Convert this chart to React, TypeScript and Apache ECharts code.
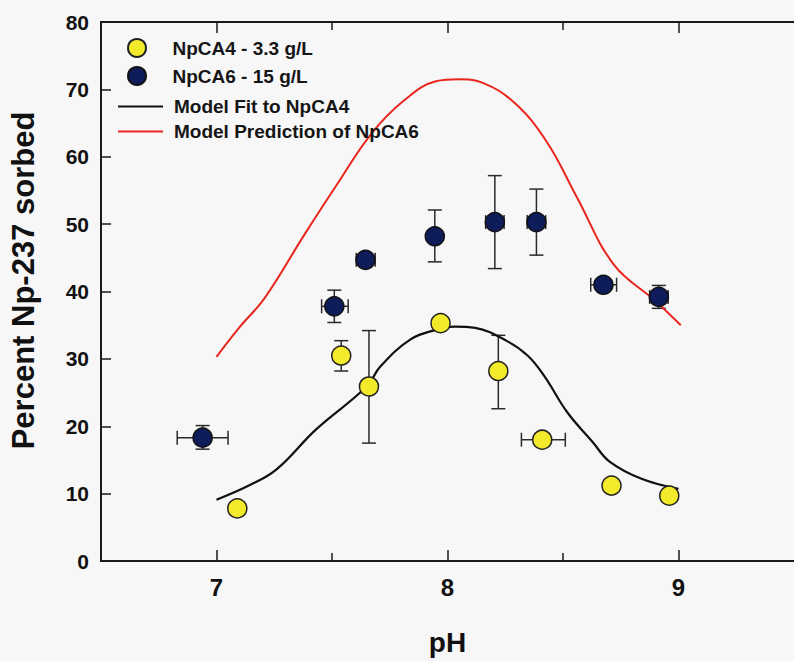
import React, { useEffect, useRef } from "react";
import * as echarts from "echarts";

// ---- data ----
const ca4PH = [7.09, 7.54, 7.66, 7.97, 8.22, 8.41, 8.71, 8.96];
const ca4Val = [7.8, 30.5, 25.9, 35.3, 28.2, 18.0, 11.2, 9.7];
const ca4YLow: (number | null)[] = [null, 28.2, 17.5, 34.4, 22.6, null, 10.4, null];
const ca4YHigh: (number | null)[] = [null, 32.7, 34.2, 36.2, 33.5, null, 12.0, null];
const ca4XLow: (number | null)[] = [null, null, null, null, null, 8.32, null, null];
const ca4XHigh: (number | null)[] = [null, null, null, null, null, 8.51, null, null];

const ca6PH = [6.94, 7.51, 7.645, 7.945, 8.205, 8.385, 8.675, 8.915];
const ca6Val = [18.3, 37.8, 44.7, 48.2, 50.3, 50.3, 41.0, 39.2];
const ca6YLow: (number | null)[] = [16.6, 35.4, null, 44.4, 43.4, 45.4, null, 37.5];
const ca6YHigh: (number | null)[] = [20.1, 40.2, null, 52.1, 57.2, 55.2, null, 40.9];
const ca6XLow: (number | null)[] = [6.83, 7.455, 7.605, null, 8.165, 8.345, 8.62, 8.875];
const ca6XHigh: (number | null)[] = [7.05, 7.57, 7.687, null, 8.245, 8.425, 8.732, 8.955];

const fitPH = [7.0, 7.14, 7.26, 7.43, 7.65, 7.71, 7.84, 7.95, 8.03, 8.12, 8.26, 8.35, 8.42, 8.52, 8.63, 8.7, 8.84, 9.0];
const fitVal = [9.1, 11.2, 13.6, 19.5, 25.9, 28.9, 32.9, 34.3, 34.8, 34.6, 32.6, 30.4, 27.4, 22.0, 17.6, 14.8, 12.2, 10.7];

const predPH = [7.0, 7.1, 7.21, 7.38, 7.52, 7.67, 7.81, 7.95, 8.05, 8.15, 8.29, 8.43, 8.56, 8.72, 8.9, 9.01];
const predVal = [30.3, 34.7, 39.1, 48.4, 55.8, 63.4, 68.3, 71.2, 71.5, 71.0, 68.0, 62.2, 54.0, 44.0, 38.6, 35.0];

const xLabels = [7, 8, 9];
const xHalfTicks = [7.5, 8.5];

const seriesNames = [
  "NpCA4 - 3.3 g/L",
  "NpCA6 - 15 g/L",
  "Model Fit to NpCA4",
  "Model Prediction of NpCA6",
];

const FONT = "Liberation Sans, Arial, Helvetica, sans-serif";

function errorBars(
  px: number[],
  py: number[],
  xl: (number | null)[],
  xh: (number | null)[],
  yl: (number | null)[],
  yh: (number | null)[]
) {
  return (params: any, api: any) => {
    const i = params.dataIndex;
    const cap = 7;
    const style = { stroke: "#2a2a2a", lineWidth: 1.5 };
    const children: any[] = [];
    if (yl[i] != null && yh[i] != null) {
      const a = api.coord([px[i], yl[i]]);
      const b = api.coord([px[i], yh[i]]);
      children.push({ type: "line", shape: { x1: a[0], y1: a[1], x2: b[0], y2: b[1] }, style });
      children.push({ type: "line", shape: { x1: a[0] - cap, y1: a[1], x2: a[0] + cap, y2: a[1] }, style });
      children.push({ type: "line", shape: { x1: b[0] - cap, y1: b[1], x2: b[0] + cap, y2: b[1] }, style });
    }
    if (xl[i] != null && xh[i] != null) {
      const a = api.coord([xl[i], py[i]]);
      const b = api.coord([xh[i], py[i]]);
      children.push({ type: "line", shape: { x1: a[0], y1: a[1], x2: b[0], y2: b[1] }, style });
      children.push({ type: "line", shape: { x1: a[0], y1: a[1] - cap, x2: a[0], y2: a[1] + cap }, style });
      children.push({ type: "line", shape: { x1: b[0], y1: b[1] - cap, x2: b[0], y2: b[1] + cap }, style });
    }
    return { type: "group", children };
  };
}

export default function App() {
  const ref = useRef<HTMLDivElement>(null);
  useEffect(() => {
    if (!ref.current) return;
    const chart = echarts.init(ref.current, null, { renderer: "svg" });
    const axisLine = { show: true, onZero: false, lineStyle: { color: "#1a1a1a", width: 2 } };
    const baseX = { type: "value", min: 6.5, max: 9.5, splitLine: { show: false } };
    const legendText = { fontFamily: FONT, fontWeight: "bold", fontSize: 19, color: "#151515" };
    chart.setOption({
      animation: false,
      backgroundColor: "#f7f7f7",
      grid: { left: 101, top: 22, width: 705, height: 542 },
      legend: [
        {
          orient: "vertical",
          left: 122,
          top: 33,
          itemWidth: 45,
          itemHeight: 18,
          itemGap: 8,
          data: [seriesNames[0], seriesNames[1]],
          textStyle: { ...legendText, padding: [0, 0, 0, 8] },
        },
        {
          orient: "vertical",
          left: 113,
          top: 92,
          itemWidth: 45,
          itemHeight: 2,
          itemGap: 6,
          icon: "rect",
          data: [seriesNames[2], seriesNames[3]],
          textStyle: { ...legendText, padding: [0, 0, 0, 6] },
        },
      ],
      xAxis: [
        {
          ...baseX,
          position: "bottom",
          name: "pH",
          nameLocation: "middle",
          nameGap: 67,
          nameTextStyle: { fontFamily: FONT, fontWeight: "bold", fontSize: 28, color: "#111" },
          axisLine,
          axisTick: { show: true, inside: true, length: 11, customValues: xLabels, lineStyle: { color: "#1a1a1a", width: 1.5 } },
          axisLabel: {
            show: true,
            customValues: xLabels,
            margin: 14,
            fontFamily: FONT,
            fontWeight: "bold",
            fontSize: 24,
            color: "#111",
          },
        },
        {
          ...baseX,
          position: "bottom",
          axisLine: { show: false },
          axisTick: { show: true, inside: true, length: 8, customValues: xHalfTicks, lineStyle: { color: "#1a1a1a", width: 1.5 } },
          axisLabel: { show: false },
        },
        {
          ...baseX,
          position: "top",
          axisLine,
          axisTick: { show: true, inside: true, length: 11, customValues: xLabels, lineStyle: { color: "#1a1a1a", width: 1.5 } },
          axisLabel: { show: false },
        },
        {
          ...baseX,
          position: "top",
          axisLine: { show: false },
          axisTick: { show: true, inside: true, length: 8, customValues: xHalfTicks, lineStyle: { color: "#1a1a1a", width: 1.5 } },
          axisLabel: { show: false },
        },
      ],
      yAxis: {
        type: "value",
        min: 0,
        max: 80,
        interval: 10,
        name: "Percent Np-237 sorbed",
        nameLocation: "middle",
        nameGap: 62,
        nameTextStyle: {
          fontFamily: FONT,
          fontWeight: "bold",
          fontSize: 31,
          color: "#111",
          padding: [0, 0, 0, 22],
        },
        splitLine: { show: false },
        axisLine,
        axisTick: { show: true, inside: true, length: 10, lineStyle: { color: "#1a1a1a", width: 1.5 } },
        axisLabel: { margin: 12, fontFamily: FONT, fontWeight: "bold", fontSize: 21, color: "#111" },
      },
      series: [
        {
          type: "custom",
          name: "ca4err",
          renderItem: errorBars(ca4PH, ca4Val, ca4XLow, ca4XHigh, ca4YLow, ca4YHigh),
          data: ca4PH.map((x, i) => [x, ca4Val[i]]),
          z: 1,
          silent: true,
        },
        {
          type: "custom",
          name: "ca6err",
          renderItem: errorBars(ca6PH, ca6Val, ca6XLow, ca6XHigh, ca6YLow, ca6YHigh),
          data: ca6PH.map((x, i) => [x, ca6Val[i]]),
          z: 1,
          silent: true,
        },
        {
          type: "line",
          name: seriesNames[2],
          data: fitPH.map((x, i) => [x, fitVal[i]]),
          smooth: 0.4,
          showSymbol: false,
          symbol: "none",
          lineStyle: { color: "#111", width: 2.2 },
          itemStyle: { color: "#111" },
          z: 2,
        },
        {
          type: "line",
          name: seriesNames[3],
          data: predPH.map((x, i) => [x, predVal[i]]),
          smooth: 0.4,
          showSymbol: false,
          symbol: "none",
          lineStyle: { color: "#e8261e", width: 2 },
          itemStyle: { color: "#e8261e" },
          z: 2,
        },
        {
          type: "scatter",
          name: seriesNames[0],
          data: ca4PH.map((x, i) => [x, ca4Val[i]]),
          symbol: "circle",
          symbolSize: 19,
          itemStyle: { color: "#f2ea2a", borderColor: "#222", borderWidth: 1.5, opacity: 1 },
          z: 3,
        },
        {
          type: "scatter",
          name: seriesNames[1],
          data: ca6PH.map((x, i) => [x, ca6Val[i]]),
          symbol: "circle",
          symbolSize: 19,
          itemStyle: { color: "#0f1c5a", borderColor: "#111", borderWidth: 1.5, opacity: 1 },
          z: 3,
        },
      ],
    });
    return () => chart.dispose();
  }, []);
  return <div ref={ref} style={{ position: "fixed", left: 0, top: 0, width: 794, height: 661 }} />;
}
